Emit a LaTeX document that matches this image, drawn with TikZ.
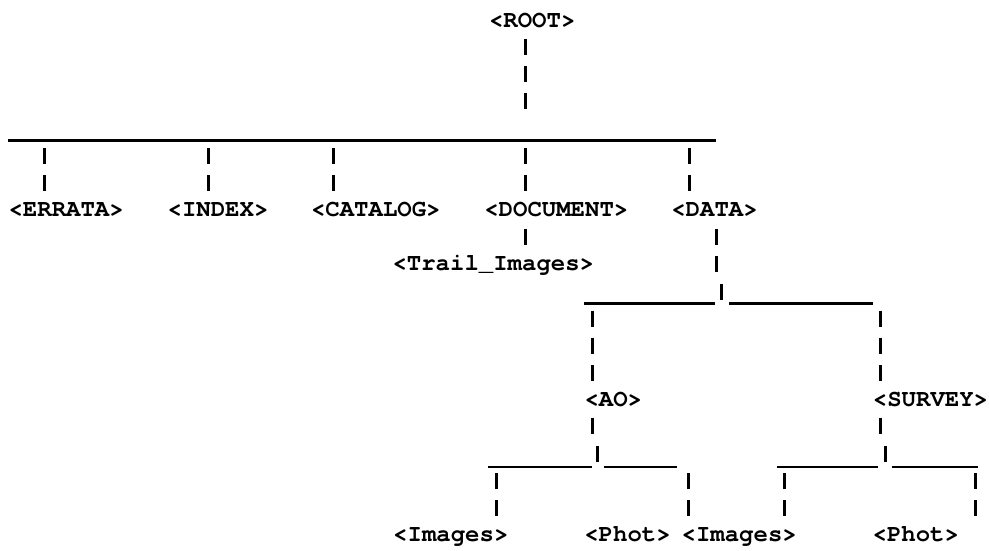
\documentclass[tikz,border=0pt]{standalone}
\usepackage{fontspec}
\newfontfamily\cursorbf{texgyrecursor-bold.otf}

\begin{document}
\begin{tikzpicture}[x=1pt,y=-1pt,
    lbl/.style={font=\cursorbf\fontsize{24}{28}\selectfont, inner xsep=0pt,
      inner ysep=11.7pt, text height=13.7pt, text depth=0pt, anchor=base},
    pipe/.style={line width=3pt, dash pattern=on 16pt off 11.06pt},
    bar/.style={line width=2.6pt}] % Tree
  \useasboundingbox (0,0) rectangle (989,550);

  % labels
  \node[lbl] (root) at (532.2,27.35) {<ROOT>};
  \node[lbl] (errata) at (66.2,216.77) {<ERRATA>};
  \node[lbl] (index) at (218,216.77) {<INDEX>};
  \node[lbl] (catalog) at (375.8,216.77) {<CATALOG>};
  \node[lbl] (document) at (556.3,216.77) {<DOCUMENT>};
  \node[lbl] (data) at (714.5,216.77) {<DATA>};
  \node[lbl] (trail) at (493.3,270.89) {<Trail\_Images>};
  \node[lbl] (ao) at (613.3,406.19) {<AO>};
  \node[lbl] (survey) at (930.5,406.19) {<SURVEY>};
  \node[lbl] (images1) at (450.8,541.49) {<Images>};
  \node[lbl] (phot1) at (627.5,541.49) {<Phot>};
  \node[lbl] (images2) at (739.2,541.49) {<Images>};
  \node[lbl] (phot2) at (915.8,541.49) {<Phot>};

  % junctions
  \coordinate (rootj) at (525,109.7);
  \coordinate (top-w) at (8.3,140.7);
  \coordinate (top-e) at (716,140.7);
  \coordinate (dataj) at (716,272);
  \coordinate (dataknot) at (721.7,283.6);
  \coordinate (data-w) at (584,303.3);
  \coordinate (data-l) at (715,303.3);
  \coordinate (data-r) at (729.3,303.3);
  \coordinate (data-e) at (873.3,303.3);
  \coordinate (aoj) at (592.3,434.4);
  \coordinate (aoknot) at (597.3,446);
  \coordinate (ao-w) at (488.3,467);
  \coordinate (ao-l) at (591.7,467);
  \coordinate (ao-r) at (604,467);
  \coordinate (ao-e) at (676.7,467);
  \coordinate (surveyj) at (880.5,434.4);
  \coordinate (surveyknot) at (885,446);
  \coordinate (survey-w) at (776.7,467);
  \coordinate (survey-l) at (878.3,467);
  \coordinate (survey-r) at (891.7,467);
  \coordinate (survey-e) at (978.3,467);

  % root level
  \draw[pipe] (root.south -| rootj) -- (rootj);
  \draw[bar] (top-w) -- (top-e);
  \foreach \n/\x in {errata/44.3,index/208.3,catalog/333.3,document/525,data/689}{
    \coordinate (\n-in) at (\x,148.3);
    \draw[pipe] (\n-in) -- (\n-in |- \n.north);
  }
  \draw[pipe] (document.south -| rootj) -- (trail.north -| rootj);

  % data level
  \draw[pipe] (data.south -| dataj) -- (dataj);
  \draw[pipe] (dataknot) -- (dataknot |- data-w);
  \draw[bar] (data-w) -- (data-l);
  \draw[bar] (data-r) -- (data-e);
  \foreach \n/\x in {ao/592.3,survey/880.3}{
    \coordinate (\n-in) at (\x,310.66);
    \draw[pipe] (\n-in) -- (\n-in |- \n.north);
  }

  % ao and survey level
  \draw[pipe] (ao.south -| aoj) -- (aoj);
  \draw[pipe] (aoknot) -- (aoknot |- ao-w);
  \draw[bar] (ao-w) -- (ao-l);
  \draw[bar] (ao-r) -- (ao-e);
  \draw[pipe] (survey.south -| surveyj) -- (surveyj);
  \draw[pipe] (surveyknot) -- (surveyknot |- survey-w);
  \draw[bar] (survey-w) -- (survey-l);
  \draw[bar] (survey-r) -- (survey-e);
  \foreach \n/\x in {images1/496.7,phot1/688.3,images2/784,phot2/975}{
    \coordinate (\n-in) at (\x,473.02);
    \draw[pipe] (\n-in) -- (\n-in |- \n.north);
  }
\end{tikzpicture}
\end{document}
